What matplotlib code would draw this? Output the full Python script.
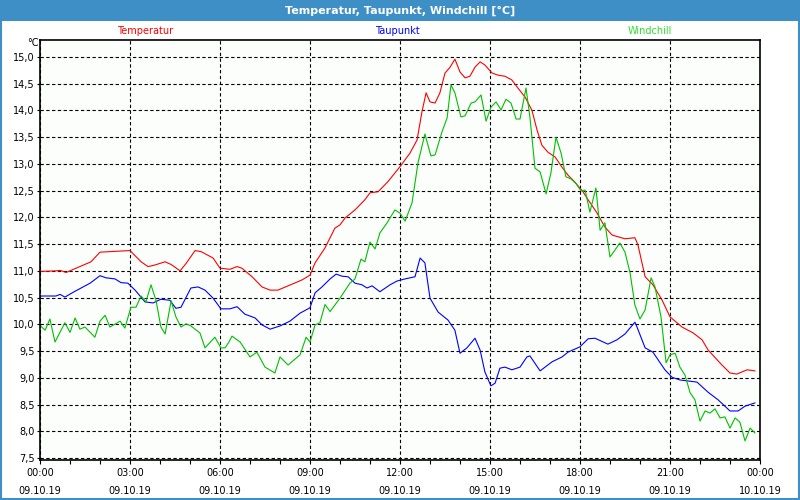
import matplotlib
matplotlib.use("Agg")
import matplotlib.pyplot as plt
from matplotlib.patches import Rectangle
from matplotlib.ticker import FuncFormatter, MultipleLocator

# hours since 09.10.19 00:00 and values in degC
temp_h = [0.0, 0.53, 0.67, 0.87, 1.7, 2.0, 3.0, 3.37, 3.6, 3.83, 4.17, 4.37, 4.67, 4.87,
          5.17, 5.37, 5.77, 6.0, 6.33, 6.57, 6.73, 7.07, 7.4, 7.67, 7.93, 8.27, 8.73, 9.0,
          9.17, 9.5, 9.83, 10.0, 10.17, 10.5, 10.83, 11.0, 11.27, 11.6, 12.0, 12.33, 12.57,
          12.73, 12.87, 13.0, 13.17, 13.33, 13.5, 13.67, 13.83, 14.0, 14.17, 14.33, 14.5,
          14.67, 14.83, 15.07, 15.27, 15.5, 15.73, 15.93, 16.17, 16.4, 16.57, 16.73, 16.93,
          17.17, 17.4, 17.6, 17.83, 18.1, 18.27, 18.57, 18.83, 19.07, 19.5, 19.83, 19.93,
          20.17, 20.43, 20.73, 21.0, 21.4, 21.77, 22.07, 22.27, 22.73, 23.0, 23.23, 23.57, 23.83]
temp_v = [10.99, 11.0, 11.01, 10.97, 11.17, 11.35, 11.38, 11.17, 11.08, 11.11, 11.17, 11.12,
          11.0, 11.14, 11.38, 11.36, 11.24, 11.05, 11.03, 11.08, 11.05, 10.89, 10.7, 10.64,
          10.64, 10.72, 10.83, 10.92, 11.15, 11.43, 11.8, 11.86, 11.99, 12.14, 12.33, 12.46,
          12.48, 12.67, 12.95, 13.2, 13.45, 13.97, 14.33, 14.16, 14.14, 14.33, 14.7, 14.81,
          14.96, 14.72, 14.61, 14.64, 14.81, 14.91, 14.85, 14.7, 14.66, 14.64, 14.57, 14.42,
          14.25, 14.0, 13.63, 13.35, 13.22, 13.13, 12.94, 12.79, 12.66, 12.48, 12.33, 12.08,
          11.82, 11.67, 11.6, 11.62, 11.49, 10.89, 10.74, 10.46, 10.14, 9.95, 9.84, 9.71,
          9.52, 9.24, 9.09, 9.07, 9.15, 9.13]

dew_h = [0.0, 0.53, 0.67, 0.83, 1.17, 1.67, 2.0, 2.2, 2.5, 2.7, 2.93, 3.17, 3.5, 3.77, 4.03,
         4.33, 4.53, 4.7, 5.03, 5.27, 5.5, 5.77, 6.03, 6.33, 6.57, 6.83, 7.17, 7.4, 7.67, 8.0,
         8.33, 8.67, 9.0, 9.17, 9.4, 9.67, 9.87, 10.07, 10.27, 10.5, 10.73, 10.9, 11.07, 11.33,
         11.67, 11.9, 12.17, 12.5, 12.67, 12.83, 13.0, 13.27, 13.6, 13.83, 14.0, 14.23, 14.5,
         14.67, 14.83, 15.03, 15.17, 15.33, 15.5, 15.73, 16.0, 16.23, 16.33, 16.67, 17.07,
         17.4, 17.6, 18.0, 18.27, 18.5, 18.93, 19.23, 19.5, 19.83, 19.9, 20.17, 20.43, 20.83,
         21.07, 21.33, 21.9, 22.27, 22.6, 23.0, 23.27, 23.5, 23.83]
dew_v = [10.53, 10.53, 10.56, 10.51, 10.62, 10.77, 10.91, 10.87, 10.85, 10.78, 10.77, 10.64,
         10.42, 10.4, 10.47, 10.45, 10.3, 10.32, 10.68, 10.7, 10.64, 10.49, 10.29, 10.29,
         10.33, 10.19, 10.12, 9.99, 9.91, 9.97, 10.06, 10.21, 10.31, 10.59, 10.7, 10.85, 10.94,
         10.9, 10.89, 10.77, 10.74, 10.68, 10.72, 10.61, 10.74, 10.81, 10.85, 10.89, 11.24,
         11.15, 10.49, 10.23, 10.08, 9.89, 9.46, 9.56, 9.74, 9.52, 9.11, 8.85, 8.9, 9.18, 9.2,
         9.15, 9.2, 9.39, 9.41, 9.13, 9.3, 9.39, 9.48, 9.58, 9.73, 9.74, 9.63, 9.71, 9.82,
         10.04, 9.95, 9.56, 9.48, 9.15, 9.01, 8.96, 8.92, 8.73, 8.59, 8.38, 8.38, 8.47, 8.53]

wind_h = [0.02, 0.17, 0.33, 0.5, 0.83, 1.0, 1.17, 1.33, 1.5, 1.83, 2.0, 2.17, 2.33, 2.67, 2.83,
          3.03, 3.2, 3.37, 3.53, 3.7, 3.87, 4.03, 4.17, 4.37, 4.53, 4.7, 4.87, 5.03, 5.33, 5.5,
          5.83, 6.03, 6.17, 6.3, 6.4, 6.67, 7.0, 7.23, 7.5, 7.83, 8.0, 8.27, 8.67, 8.87, 9.0,
          9.17, 9.33, 9.5, 9.67, 10.0, 10.33, 10.5, 10.7, 10.83, 11.0, 11.17, 11.33, 11.57,
          11.83, 12.0, 12.17, 12.4, 12.6, 12.83, 13.03, 13.17, 13.4, 13.57, 13.7, 13.83, 14.03,
          14.17, 14.37, 14.5, 14.7, 14.87, 15.03, 15.2, 15.37, 15.53, 15.7, 15.87, 16.0, 16.2,
          16.33, 16.5, 16.67, 16.87, 17.03, 17.2, 17.37, 17.53, 17.7, 17.87, 18.03, 18.17,
          18.33, 18.53, 18.67, 18.83, 19.0, 19.33, 19.5, 19.67, 19.83, 20.0, 20.17, 20.37,
          20.5, 20.7, 20.87, 21.0, 21.17, 21.33, 21.5, 21.67, 21.83, 22.0, 22.17, 22.33, 22.5,
          22.67, 22.83, 23.0, 23.17, 23.33, 23.5, 23.67, 23.83]
wind_v = [9.97, 9.89, 10.1, 9.67, 10.03, 9.85, 10.12, 9.91, 9.95, 9.76, 10.06, 10.17, 9.95,
          10.06, 9.93, 10.32, 10.32, 10.53, 10.42, 10.74, 10.44, 9.95, 9.82, 10.44, 10.14,
          9.95, 10.01, 9.97, 9.84, 9.56, 9.76, 9.56, 9.56, 9.67, 9.78, 9.67, 9.39, 9.48, 9.2,
          9.09, 9.39, 9.24, 9.43, 9.76, 9.67, 9.99, 10.03, 10.37, 10.24, 10.49, 10.77, 10.85,
          11.22, 11.17, 11.54, 11.41, 11.71, 11.9, 12.14, 12.08, 11.93, 12.27, 13.02, 13.56,
          13.15, 13.17, 13.6, 13.86, 14.48, 14.33, 13.88, 13.9, 14.14, 14.16, 14.29, 13.8,
          14.06, 14.16, 14.01, 14.21, 14.14, 13.84, 13.84, 14.42, 13.88, 12.92, 12.85, 12.44,
          12.83, 13.5, 13.2, 12.76, 12.72, 12.63, 12.5, 12.51, 12.1, 12.55, 11.76, 11.9, 11.26,
          11.52, 11.35, 10.96, 10.36, 10.1, 10.27, 10.87, 10.7, 10.14, 9.28, 9.43, 9.46, 9.2,
          9.05, 8.72, 8.59, 8.19, 8.38, 8.34, 8.42, 8.25, 8.27, 8.06, 8.25, 8.17, 7.82, 8.06, 7.97]

series_names = ["Temperatur", "Taupunkt", "Windchill"]
x_tick_hours = [0, 3, 6, 9, 12, 15, 18, 21, 24]
x_tick_labels = ["00:00\n09.10.19", "03:00\n09.10.19", "06:00\n09.10.19", "09:00\n09.10.19",
                 "12:00\n09.10.19", "15:00\n09.10.19", "18:00\n09.10.19", "21:00\n09.10.19",
                 "00:00\n10.10.19"]
title = "Temperatur, Taupunkt, Windchill [°C]"

bar_blue = "#3d8fc6"
plt.rcParams["font.family"] = ["DejaVu Sans"]

fig = plt.figure(figsize=(8, 5), dpi=100, facecolor="white")
ax = fig.add_axes([0.05, 0.08, 0.90, 0.84])
ax.set_facecolor("#fcfefc")

# title bar and thin frame
fig.patches.append(Rectangle((0, 0.958), 1, 0.042, transform=fig.transFigure,
                             facecolor=bar_blue, edgecolor="none", zorder=0))
fig.patches.append(Rectangle((0.001, 0.002), 0.998, 0.996, transform=fig.transFigure,
                             facecolor="none", edgecolor=bar_blue, lw=1.5, zorder=0))
fig.text(0.5, 0.979, title, color="white", fontsize=8, fontweight="bold",
         ha="center", va="center")

ax.plot(temp_h, temp_v, color="#ff0000", lw=0.8)
ax.plot(dew_h, dew_v, color="#0000ff", lw=0.8)
ax.plot(wind_h, wind_v, color="#00c000", lw=0.8)

# header labels in series colours
label_x = [0.1813, 0.4963, 0.8125]
label_colors = ["#ff0000", "#0000ff", "#33dd33"]
for name, lx, c in zip(series_names, label_x, label_colors):
    fig.text(lx, 0.939, name, color=c, fontsize=7, ha="center", va="center")

ax.set_xlim(0, 24)
ax.set_ylim(7.463, 15.318)
ax.set_xticks(x_tick_hours)
ax.set_xticklabels(x_tick_labels, linespacing=1.9)
ax.xaxis.set_minor_locator(MultipleLocator(1))
ax.yaxis.set_major_locator(MultipleLocator(0.5))
ax.yaxis.set_major_formatter(FuncFormatter(lambda v, p: f"{v:.1f}".replace(".", ",")))
ax.tick_params(axis="x", which="both", direction="out", length=3, width=0.8,
               labelsize=7, colors="black", pad=3)
ax.tick_params(axis="y", direction="out", length=2, width=0.8, labelsize=7, pad=2)

ax.grid(True, which="major", color="black", linestyle=(0, (3, 2.2)), linewidth=0.8)
for s in ax.spines.values():
    s.set_linewidth(1.2)
    s.set_color("black")

fig.text(0.048, 0.913, "°C", fontsize=7, ha="right", va="center")

fig.savefig("out.png", dpi=100, facecolor="white")
